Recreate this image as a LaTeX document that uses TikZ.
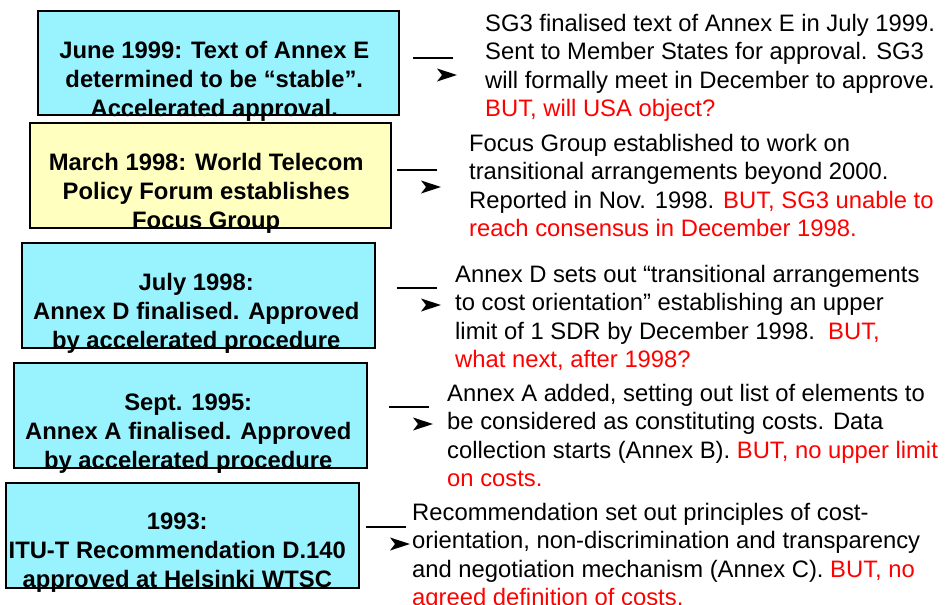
\documentclass[tikz,border=0pt]{standalone}
\usepackage{fontspec}
\setmainfont{Liberation Sans}
\usetikzlibrary{positioning}
\definecolor{boxcyan}{RGB}{153,243,255}
\definecolor{boxyellow}{RGB}{255,255,192}
\definecolor{butred}{RGB}{255,0,0}

\begin{document}
\begin{tikzpicture}[x=1pt,y=1pt]
\tikzstyle{every node}+=[inner sep=0pt]
\tikzstyle{datebox}=[draw=black,line width=1.5pt,fill=boxcyan,anchor=north west,minimum width=353pt,minimum height=105pt]
\tikzstyle{datetext}=[font=\fontsize{23.8}{29}\selectfont\bfseries,align=center,anchor=base]
\tikzstyle{note}=[font=\fontsize{23.8}{28.5}\selectfont,align=left,anchor=base west]
\tikzstyle{lead}=[line width=1.5pt]
\useasboundingbox (0,0) rectangle (951,-605);
\node[datebox,minimum width=361pt,minimum height=104pt] (b1) at (37,-10) {};
\node[datebox,fill=boxyellow,minimum width=361pt] (b2) at (29,-122) {};
\node[datebox] (b3) at (21,-242) {};
\node[datebox] (b4) at (13,-362) {};
\node[datebox] (b5) at (5,-482) {};
\node[datetext] (t1) at ([xshift=-4pt,yshift=-1pt]b1.south) {June 1999: Text of Annex E\\determined to be “stable”.\\Accelerated approval.};
\node[datetext] (t2) at ([xshift=-4pt]b2.south) {March 1998: World Telecom\\Policy Forum establishes\\Focus Group};
\node[datetext] (t3) at ([xshift=-2pt]b3.south) {July 1998:\\Annex D finalised. Approved\\by accelerated procedure};
\node[datetext] (t4) at ([xshift=-2pt]b4.south) {Sept. 1995:\\Annex A finalised. Approved\\by accelerated procedure};
\node[datetext] (t5) at ([xshift=-5pt,yshift=1pt]b5.south) {1993:\\ITU-T Recommendation D.140\\approved at Helsinki WTSC};
\node[note] (n1) at (485,-116.5) {SG3 finalised text of Annex E in July 1999.\\Sent to Member States for approval. SG3\\will formally meet in December to approve.\\\textcolor{butred}{BUT, will USA object?}};
\node[note] (n2) at (469,-236.5) {Focus Group established to work on\\transitional arrangements beyond 2000.\\Reported in Nov. 1998. \textcolor{butred}{BUT, SG3 unable to}\\\textcolor{butred}{reach consensus in December 1998.}};
\node[note] (n3) at (455,-367.5) {Annex D sets out “transitional arrangements\\to cost orientation” establishing an upper\\limit of 1 SDR by December 1998.\ \ \textcolor{butred}{BUT,}\\\textcolor{butred}{what next, after 1998?}};
\node[note] (n4) at (447,-486.5) {Annex A added, setting out list of elements to\\be considered as constituting costs. Data\\collection starts (Annex B). \textcolor{butred}{BUT, no upper limit}\\\textcolor{butred}{on costs.}};
\node[note] (n5) at (412,-605.5) {Recommendation set out principles of cost-\\orientation, non-discrimination and transparency\\and negotiation mechanism (Annex C). \textcolor{butred}{BUT, no}\\\textcolor{butred}{agreed definition of costs.}};
\coordinate (s1) at (413,-58);
\coordinate (s2) at (397,-170);
\coordinate (s3) at (397,-288);
\coordinate (s4) at (389,-407);
\coordinate (s5) at (366,-527);
\foreach \i in {1,...,5}{
\draw [lead] (s\i) -- ++(40,0) coordinate (e\i);
\fill [black] ([xshift=44pt,yshift=-17pt]s\i) coordinate (h\i) -- ++(-20,6.5) -- ++(5,-6.5) -- ++(-5,-6.5) -- cycle;
}
\end{tikzpicture}
\end{document}
